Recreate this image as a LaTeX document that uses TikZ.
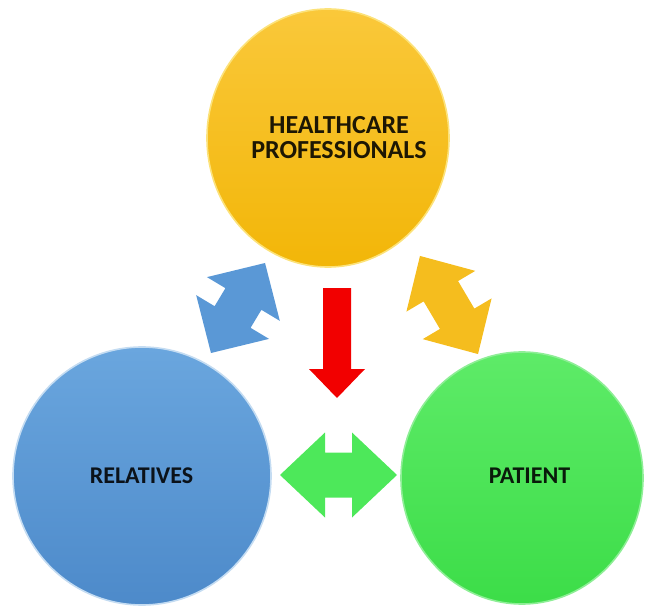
\documentclass[tikz,border=0pt]{standalone}
\usepackage{fontspec}
\setmainfont{Carlito}
\usetikzlibrary{shapes.geometric}

\definecolor{hcTop}{HTML}{FAC83A}
\definecolor{hcBot}{HTML}{F2B608}
\definecolor{hcRim}{HTML}{FCE27A}
\definecolor{relTop}{HTML}{6AA6DE}
\definecolor{relBot}{HTML}{4D8ACA}
\definecolor{relRim}{HTML}{C4DCF2}
\definecolor{patTop}{HTML}{5EEB68}
\definecolor{patBot}{HTML}{3CDD48}
\definecolor{patRim}{HTML}{8EEE96}
\definecolor{arBlue}{HTML}{5A98D6}
\definecolor{arGold}{HTML}{F5BD1E}
\definecolor{arGreen}{HTML}{4DE85A}
\definecolor{arRed}{HTML}{F20000}

% block double arrow along the local x axis:
% #1 half length, #2 head length, #3 head half width, #4 shaft half width
\newcommand{\blockdbl}[4]{%
  (-#1,0) -- (-#1+#2,#3) -- (-#1+#2,#4) -- (#1-#2,#4) -- (#1-#2,#3) --
  (#1,0) -- (#1-#2,-#3) -- (#1-#2,-#4) -- (-#1+#2,-#4) -- (-#1+#2,-#3) -- cycle}

\begin{document}
\begin{tikzpicture}[x=0.75pt,y=-0.75pt,
  party/.style={ellipse, inner sep=0pt, outer sep=0pt, line width=1.2pt},
  roletext/.style={font=\bfseries, align=center, text=black, text opacity=0.88,
    inner sep=0pt},
  blockarrow/.style={draw=none}]

\useasboundingbox (0,0) rectangle (646,606);

% ---- block arrows between the three parties ----
\begin{scope}[shift={(238,308)}, rotate=59]
  \fill[arBlue] \blockdbl{52.5}{42}{42.5}{21};
\end{scope}
\begin{scope}[shift={(449,305)}, rotate=-59.4]
  \fill[arGold] \blockdbl{57}{41}{40}{20};
\end{scope}
\begin{scope}[shift={(338.5,475)}]
  \fill[arGreen] \blockdbl{58.5}{45}{42.5}{22.5};
\end{scope}
\fill[arRed] (323,288) -- (351,288) -- (351,369) -- (365,369) -- (337,398)
  -- (309,369) -- (323,369) -- cycle;

% ---- the three parties ----
\node[party, draw=hcRim, top color=hcTop, bottom color=hcBot,
  minimum width=181.5pt, minimum height=193.5pt] (hc) at (328,138) {};
\node[party, draw=relRim, top color=relTop, bottom color=relBot,
  minimum width=193.5pt, minimum height=193.5pt] (rel) at (142,476) {};
\node[party, draw=patRim, top color=patTop, bottom color=patBot,
  minimum width=181.5pt, minimum height=189pt] (pat) at (522,478) {};

% ---- labels ----
\node[roletext, font=\bfseries\fontsize{19.5}{18.75}\selectfont]
  (hclabel) at (339,138) {HEALTHCARE\\PROFESSIONALS};
\node[roletext, font=\bfseries\fontsize{18}{18}\selectfont]
  (rellabel) at (141.5,475.5) {RELATIVES};
\node[roletext, font=\bfseries\fontsize{18}{18}\selectfont]
  (patlabel) at (529.5,475.5) {PATIENT};
\end{tikzpicture}
\end{document}
